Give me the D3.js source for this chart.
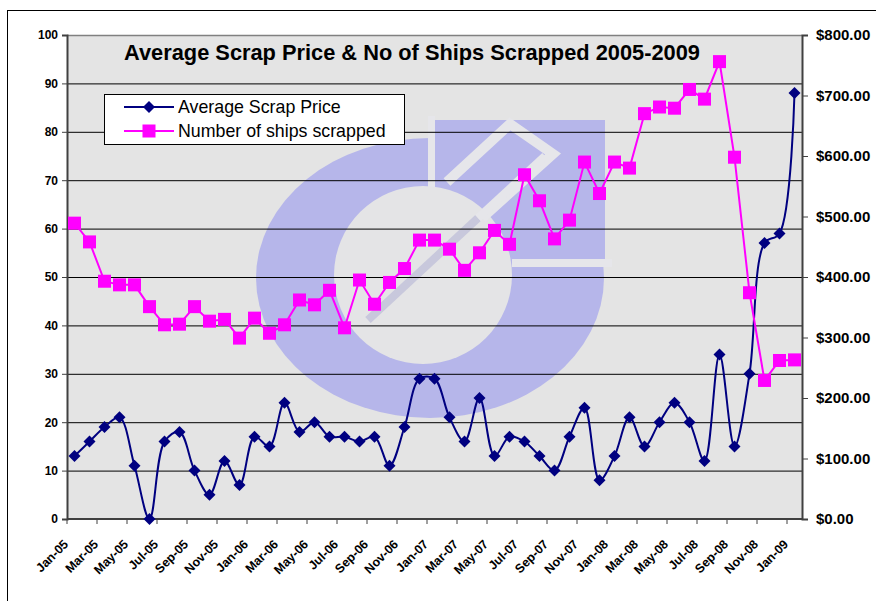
<!DOCTYPE html>
<html><head><meta charset="utf-8">
<script src="https://cdn.jsdelivr.net/npm/d3@7"></script>
<style>body{margin:0;background:#fff} svg{display:block} text{font-family:Arial,"Liberation Sans",sans-serif}</style>
</head><body><svg id="c" width="876" height="601"></svg>
<script>
const months = ["Jan-05","Feb-05","Mar-05","Apr-05","May-05","Jun-05","Jul-05","Aug-05","Sep-05","Oct-05","Nov-05","Dec-05",
"Jan-06","Feb-06","Mar-06","Apr-06","May-06","Jun-06","Jul-06","Aug-06","Sep-06","Oct-06","Nov-06","Dec-06",
"Jan-07","Feb-07","Mar-07","Apr-07","May-07","Jun-07","Jul-07","Aug-07","Sep-07","Oct-07","Nov-07","Dec-07",
"Jan-08","Feb-08","Mar-08","Apr-08","May-08","Jun-08","Jul-08","Aug-08","Sep-08","Oct-08","Nov-08","Dec-08","Jan-09"];
// Blue series (left axis)
const scrapPrice = [13,16,19,21,11,0,16,18,10,5,12,7,
17,15,24,18,20,17,17,16,17,11,19,29,
29,21,16,25,13,17,16,13,10,17,23,8,
13,21,15,20,24,20,12,34,15,30,57,59,88];
// Pink series (right axis, $)
const shipsScrapped = [489,458,393,387,387,351,321,322,351,327,330,299,
332,307,321,362,354,378,316,395,355,391,414,461,
461,446,411,440,477,454,569,526,463,494,590,538,
590,580,670,681,679,710,694,756,598,374,229,262,263];
const leftTicks = [0,10,20,30,40,50,60,70,80,90,100];
const rightTicks = [0,100,200,300,400,500,600,700,800];
const labelMonths = months.filter((m,i)=>i%2===0);
const seriesNames = ["Average Scrap Price","Number of ships scrapped"];
const title = "Average Scrap Price & No of Ships Scrapped 2005-2009";

const svg = d3.select("#c");
const L=67, R=802, T=35, B=519;
const x = d3.scaleBand().domain(months).range([L,R]).padding(0);
const cx = d => x(d)+x.bandwidth()/2;
const yL = d3.scaleLinear().domain([0,100]).range([B,T]);
const yR = d3.scaleLinear().domain([0,800]).range([B,T]);

// outer frame
svg.append("rect").attr("x",7.5).attr("y",10.5).attr("width",1000).attr("height",800).attr("fill","#fff").attr("stroke","#000");

// plot area
svg.append("defs").append("clipPath").attr("id","pc").append("rect").attr("x",L).attr("y",T).attr("width",R-L).attr("height",B-T);
svg.append("rect").attr("x",L).attr("y",T).attr("width",R-L).attr("height",B-T).attr("fill","#e4e4e4");

// watermark logo
const wm = svg.append("g").attr("clip-path","url(#pc)");
const lav="#b6b6ea", lt="#e6e6ea";
wm.append("ellipse").attr("cx",430).attr("cy",278).attr("rx",174).attr("ry",140).attr("fill",lav);
wm.append("rect").attr("x",434).attr("y",120).attr("width",171).attr("height",142).attr("fill",lav);
wm.append("rect").attr("x",428).attr("y",116).attr("width",7).attr("height",78).attr("fill",lt);
wm.append("rect").attr("x",512).attr("y",259).attr("width",100).attr("height",8).attr("fill",lt);
wm.append("circle").attr("cx",423).attr("cy",275).attr("r",89).attr("fill","#e4e4e6");
wm.append("line").attr("x1",368).attr("y1",320).attr("x2",478).attr("y2",218).attr("stroke","#c8c8dc").attr("stroke-width",8);
wm.append("path").attr("d","M447,182 L510,124 L553,154 L482,218").attr("fill","none").attr("stroke",lt).attr("stroke-width",10).attr("stroke-linejoin","miter");
wm.append("line").attr("x1",478).attr("y1",218).attr("x2",545).attr("y2",156).attr("stroke",lt).attr("stroke-width",8);

// gridlines
svg.append("g").selectAll("line").data(leftTicks.filter(v=>v>0&&v<100)).join("line")
  .attr("x1",L).attr("x2",R).attr("y1",d=>yL(d)+0.5).attr("y2",d=>yL(d)+0.5).attr("stroke","#000").attr("stroke-width",1);
svg.append("line").attr("x1",L).attr("x2",R).attr("y1",T+0.5).attr("y2",T+0.5).attr("stroke","#808080").attr("stroke-width",1.5);

// left axis
const gl = svg.append("g").attr("transform",`translate(${L},0)`)
  .call(d3.axisLeft(yL).tickValues(leftTicks).tickSize(5).tickPadding(4));
gl.select(".domain").attr("stroke","#404040").attr("stroke-width",2);
gl.selectAll(".tick line").attr("stroke","#404040");
gl.selectAll("text").attr("font-size","12px").attr("font-weight","bold").attr("fill","#000");

// right axis
const gr = svg.append("g").attr("transform",`translate(${R},0)`)
  .call(d3.axisRight(yR).tickValues(rightTicks).tickSize(6).tickPadding(8).tickFormat(v=>"$"+v.toFixed(2)));
gr.select(".domain").attr("stroke","#404040").attr("stroke-width",2);
gr.selectAll(".tick line").attr("stroke","#404040");
gr.selectAll("text").attr("font-size","15px").attr("font-weight","bold").attr("fill","#000");

// bottom axis
svg.append("line").attr("x1",L).attr("x2",R+1).attr("y1",B).attr("y2",B).attr("stroke","#404040").attr("stroke-width",2);
svg.append("g").selectAll("line").data(labelMonths).join("line")
  .attr("x1",d=>x(d)).attr("x2",d=>x(d)).attr("y1",B).attr("y2",B+5).attr("stroke","#404040");
svg.append("g").selectAll("text").data(labelMonths).join("text")
  .attr("transform",d=>`translate(${cx(d)-5.5},545) rotate(-45)`)
  .attr("text-anchor","end").attr("font-size","12.5px").attr("font-weight","bold").text(d=>d);

// series
const plot = svg.append("g");
const blueLine = d3.line().x((d,i)=>cx(months[i])).y(d=>yL(d)).curve(d3.curveCatmullRom.alpha(0.5));
const pinkLine = d3.line().x((d,i)=>cx(months[i])).y(d=>yR(d));
plot.append("path").datum(scrapPrice).attr("d",blueLine).attr("fill","none").attr("stroke","#000080").attr("stroke-width",2);
const dia = "M0,-6L6,0L0,6L-6,0Z";
plot.append("g").selectAll("path").data(scrapPrice).join("path")
  .attr("transform",(d,i)=>`translate(${cx(months[i])},${yL(d)})`).attr("d",dia).attr("fill","#000080");
plot.append("path").datum(shipsScrapped).attr("d",pinkLine).attr("fill","none").attr("stroke","#ff00ff").attr("stroke-width",2);
plot.append("g").selectAll("rect").data(shipsScrapped).join("rect")
  .attr("x",(d,i)=>cx(months[i])-6.5).attr("y",d=>yR(d)-6.5).attr("width",13).attr("height",13).attr("fill","#ff00ff");

// title
svg.append("text").attr("x",412).attr("y",60).attr("text-anchor","middle").attr("font-size","21.8px").attr("font-weight","bold").text(title);

// legend
const lg = svg.append("g");
lg.append("rect").attr("x",104.5).attr("y",94.5).attr("width",300).attr("height",50).attr("fill","#fff").attr("stroke","#000");
const ly=[107,131];
lg.append("line").attr("x1",124).attr("x2",174).attr("y1",ly[0]).attr("y2",ly[0]).attr("stroke","#000080").attr("stroke-width",2);
lg.append("path").attr("transform",`translate(149,${ly[0]})`).attr("d",dia).attr("fill","#000080");
lg.append("line").attr("x1",124).attr("x2",174).attr("y1",ly[1]).attr("y2",ly[1]).attr("stroke","#ff00ff").attr("stroke-width",2);
lg.append("rect").attr("x",142.5).attr("y",ly[1]-6.5).attr("width",13).attr("height",13).attr("fill","#ff00ff");
lg.selectAll("text.l").data(seriesNames).join("text").attr("class","l")
  .attr("x",178).attr("y",(d,i)=>ly[i]+6).attr("font-size","17.8px").text(d=>d);
</script></body></html>
